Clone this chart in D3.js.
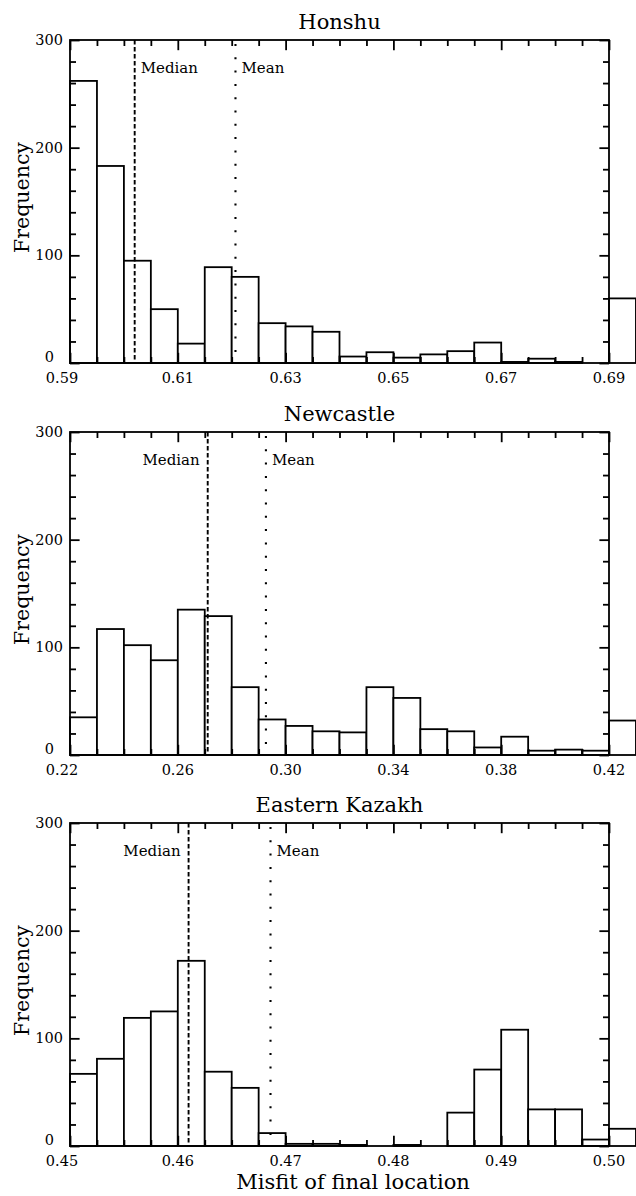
<!DOCTYPE html>
<html>
<head>
<meta charset="utf-8">
<script src="https://cdn.jsdelivr.net/npm/d3@7/dist/d3.min.js"></script>
<style>
  html, body { margin: 0; padding: 0; background: #fff; }
  svg { display: block; }
  text { font-family: "DejaVu Serif", "Liberation Serif", serif; fill: #000; }
</style>
</head>
<body>
<svg id="chart" width="636" height="1196"></svg>
<script>
// ---------- data ----------
const titles = ["Honshu", "Newcastle", "Eastern Kazakh"];
const binStarts = [0.59, 0.22, 0.45];
const binWidths = [0.005, 0.01, 0.0025];
const domainEnds = [0.69, 0.42, 0.50];

const honshuCounts    = [262, 183, 95, 50, 18, 89, 80, 37, 34, 29, 6, 10, 5, 8, 11, 19, 1, 4, 1, 0, 60];
const newcastleCounts = [35, 117, 102, 88, 135, 129, 63, 33, 27, 22, 21, 63, 53, 24, 22, 7, 17, 4, 5, 4, 32];
const kazakhCounts    = [67, 81, 119, 125, 172, 69, 54, 12, 2, 2, 1, 0, 1, 0, 31, 71, 108, 34, 34, 6, 16];
const allCounts = [honshuCounts, newcastleCounts, kazakhCounts];

const honshuTicks    = [0.59, 0.61, 0.63, 0.65, 0.67, 0.69];
const newcastleTicks = [0.22, 0.26, 0.30, 0.34, 0.38, 0.42];
const kazakhTicks    = [0.45, 0.46, 0.47, 0.48, 0.49, 0.50];
const allTicks = [honshuTicks, newcastleTicks, kazakhTicks];

const yTickLabels = [0, 100, 200, 300];
const yMinorStep = 20;
const medians = [0.6020, 0.2711, 0.4610];
const means   = [0.6207, 0.2927, 0.4686];
const medianSide = ["right", "left", "left"];
const xAxisTitle = "Misfit of final location";
const yAxisTitle = "Frequency";

// ---------- layout ----------
const svg = d3.select("#chart");
const L = 70, R = 609, PH = 323;
const tops = [40, 432, 823];
const fmt = d3.format(".2f");
const SW = 1.8;

titles.forEach((title, p) => {
  const top = tops[p], bot = top + PH;
  const x = d3.scaleLinear().domain([binStarts[p], domainEnds[p]]).range([L, R]);
  const y = d3.scaleLinear().domain([0, 300]).range([bot, top]);
  const g = svg.append("g");
  const counts = allCounts[p];
  const bins = counts.map((c, i) => ({
    x0: binStarts[p] + i * binWidths[p],
    x1: binStarts[p] + (i + 1) * binWidths[p],
    c
  }));

  // bars
  g.selectAll("rect.bar").data(bins.filter(d => d.c > 0)).join("rect")
    .attr("class", "bar")
    .attr("x", d => x(d.x0))
    .attr("width", d => x(d.x1) - x(d.x0))
    .attr("y", d => y(d.c))
    .attr("height", d => y(0) - y(d.c))
    .attr("fill", "#fff")
    .attr("stroke", "#000")
    .attr("stroke-width", SW);

  // frame
  g.append("rect")
    .attr("x", L).attr("y", top).attr("width", R - L).attr("height", PH)
    .attr("fill", "none").attr("stroke", "#000").attr("stroke-width", SW);

  // x ticks (minor at bin edges, major at labels), inward top & bottom
  const nEdges = Math.round((domainEnds[p] - binStarts[p]) / binWidths[p]);
  const edges = d3.range(nEdges + 1).map(i => binStarts[p] + i * binWidths[p]);
  const ticks = allTicks[p];
  const isMajor = v => ticks.some(t => Math.abs(t - v) < 1e-9);

  const axB = g.append("g").attr("transform", `translate(0,${bot})`)
    .call(d3.axisBottom(x).tickValues(edges).tickSize(-6).tickFormat(""));
  const axT = g.append("g").attr("transform", `translate(0,${top})`)
    .call(d3.axisTop(x).tickValues(edges).tickSize(-6).tickFormat(""));
  [axB, axT].forEach(a => {
    a.select(".domain").remove();
    a.selectAll(".tick line")
      .attr("stroke", "#000").attr("stroke-width", SW)
      .attr("y2", function(d) { const s = +d3.select(this).attr("y2"); return isMajor(d) ? s * 1.7 : s; });
  });

  // x labels
  g.selectAll("text.xl").data(ticks).join("text")
    .attr("class", "xl")
    .attr("x", (d, i) => x(d) + (i === 0 ? -8 : 0))
    .attr("y", bot + 20)
    .attr("text-anchor", "middle")
    .attr("font-size", "14.5px")
    .text(d => fmt(d));

  // y ticks inward both sides
  const yVals = d3.range(0, 301, yMinorStep);
  const axL = g.append("g").attr("transform", `translate(${L},0)`)
    .call(d3.axisLeft(y).tickValues(yVals).tickSize(-6).tickFormat(""));
  const axR = g.append("g").attr("transform", `translate(${R},0)`)
    .call(d3.axisRight(y).tickValues(yVals).tickSize(-6).tickFormat(""));
  [axL, axR].forEach(a => {
    a.select(".domain").remove();
    a.selectAll(".tick line")
      .attr("stroke", "#000").attr("stroke-width", SW)
      .attr("x2", function(d) { const s = +d3.select(this).attr("x2"); return d % 100 === 0 ? s * 1.6 : s; });
  });

  // y labels
  g.selectAll("text.yl").data(yTickLabels).join("text")
    .attr("class", "yl")
    .attr("x", d => d === 0 ? L - 16 : L - 7)
    .attr("y", d => y(d) + (d === 0 ? -1 : 5))
    .attr("text-anchor", "end")
    .attr("font-size", "14.5px")
    .text(d => d);

  // median (dashed) and mean (dotted)
  g.append("line")
    .attr("x1", x(medians[p])).attr("x2", x(medians[p]))
    .attr("y1", top).attr("y2", bot)
    .attr("stroke", "#000").attr("stroke-width", 1.9)
    .attr("stroke-dasharray", "4.5,2.5");
  g.append("line")
    .attr("x1", x(means[p])).attr("x2", x(means[p]))
    .attr("y1", top + 4).attr("y2", bot)
    .attr("stroke", "#000").attr("stroke-width", 2.1)
    .attr("stroke-dasharray", "2,11.3");

  g.append("text")
    .attr("x", x(medians[p]) + (medianSide[p] === "right" ? 6 : -8))
    .attr("y", top + 33)
    .attr("text-anchor", medianSide[p] === "right" ? "start" : "end")
    .attr("font-size", "15px")
    .text("Median");
  g.append("text")
    .attr("x", x(means[p]) + 6)
    .attr("y", top + 33)
    .attr("text-anchor", "start")
    .attr("font-size", "15px")
    .text("Mean");

  // title
  g.append("text")
    .attr("x", (L + R) / 2).attr("y", top - 11)
    .attr("text-anchor", "middle")
    .attr("font-size", "21px")
    .text(title);

  // y axis title
  g.append("text")
    .attr("transform", `translate(29,${top + PH / 2 - 4}) rotate(-90)`)
    .attr("text-anchor", "middle")
    .attr("font-size", "20.5px")
    .text(yAxisTitle);
});

svg.append("text")
  .attr("x", 353).attr("y", 1189)
  .attr("text-anchor", "middle")
  .attr("font-size", "21px")
  .text(xAxisTitle);
</script>
</body>
</html>
